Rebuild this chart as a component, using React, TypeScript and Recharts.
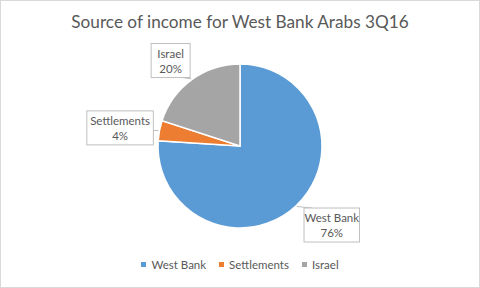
import { PieChart, Pie, Cell, Legend } from 'recharts';

const categories = ['West Bank', 'Settlements', 'Israel'];
const shares = [76, 4, 20];
const COLORS = ['#5B9BD5', '#ED7D31', '#A5A5A5'];

const data = categories.map((name, i) => ({ name, value: shares[i] }));

// Excel "best fit" pushes the callouts a little off the mid angle
const LABEL_NUDGE = [
  [11, -7],
  [-4, 4],
  [0, 10],
];

const RAD = Math.PI / 180;
const TEXT = '#595959';

function CalloutLabel(props: any) {
  const { cx, cy, midAngle, outerRadius, name, value, index } = props;
  const d = outerRadius + 36;
  const [nx, ny] = LABEL_NUDGE[index] || [0, 0];
  const lx = cx + d * Math.cos(-midAngle * RAD) + nx;
  const ly = cy + d * Math.sin(-midAngle * RAD) + ny;
  const w = Math.max(name.length * 5.5 + 6, 35);
  const h = 34;
  const x0 = lx - w / 2;
  const y0 = ly - h / 2;
  const ex = cx + (outerRadius + 1) * Math.cos(-midAngle * RAD);
  const ey = cy + (outerRadius + 1) * Math.sin(-midAngle * RAD);
  const px = Math.min(Math.max(ex, x0 + 8), x0 + w - 8);
  const py = Math.min(Math.max(ey, y0), y0 + h);
  const showLine = Math.hypot(px - ex, py - ey) > 2;
  return (
    <g>
      {showLine && <line x1={ex} y1={ey} x2={px} y2={py} stroke="#BFBFBF" strokeWidth={1} />}
      <rect x={x0} y={y0} width={w} height={h} fill="#fff" stroke="#BFBFBF" strokeWidth={1} />
      <text x={lx} y={ly - 3} textAnchor="middle" fill={TEXT} fontSize={11.5} fontFamily="Lato">
        {name}
      </text>
      <text x={lx} y={ly + 12} textAnchor="middle" fill={TEXT} fontSize={11.5} fontFamily="Lato">
        {`${value}%`}
      </text>
    </g>
  );
}

function LegendContent() {
  return (
    <div style={{ display: 'flex', justifyContent: 'center', alignItems: 'center', fontSize: 11.5, color: TEXT }}>
      {categories.map((c, i) => (
        <div key={c} style={{ display: 'flex', alignItems: 'center', marginRight: i < categories.length - 1 ? 13 : 0 }}>
          <span style={{ width: 5, height: 5, background: COLORS[i], display: 'inline-block', marginRight: 5 }} />
          <span>{c}</span>
        </div>
      ))}
    </div>
  );
}

export default function App() {
  return (
    <div
      style={{
        position: 'fixed',
        left: 0,
        top: 0,
        width: 480,
        height: 288,
        boxSizing: 'border-box',
        border: '1px solid #D9D9D9',
        background: '#fff',
        fontFamily: 'Lato',
      }}
    >
      <div
        style={{
          position: 'absolute',
          top: 11,
          width: '100%',
          textAlign: 'center',
          fontSize: 17.2,
          lineHeight: '20px',
          color: TEXT,
        }}
      >
        Source of income for West Bank Arabs 3Q16
      </div>
      <PieChart
        width={478}
        height={286}
        margin={{ top: 0, right: 0, bottom: 0, left: 0 }}
        style={{ position: 'absolute', left: 0, top: 0 }}
      >
        <Pie
          data={data}
          dataKey="value"
          nameKey="name"
          cx={239}
          cy={145}
          outerRadius={82}
          startAngle={90}
          endAngle={-270}
          stroke="#fff"
          strokeWidth={1.5}
          label={CalloutLabel}
          labelLine={false}
          isAnimationActive={false}
        >
          {data.map((_, i) => (
            <Cell key={i} fill={COLORS[i]} />
          ))}
        </Pie>
        <Legend verticalAlign="bottom" wrapperStyle={{ bottom: 16 }} content={LegendContent} />
      </PieChart>
    </div>
  );
}
